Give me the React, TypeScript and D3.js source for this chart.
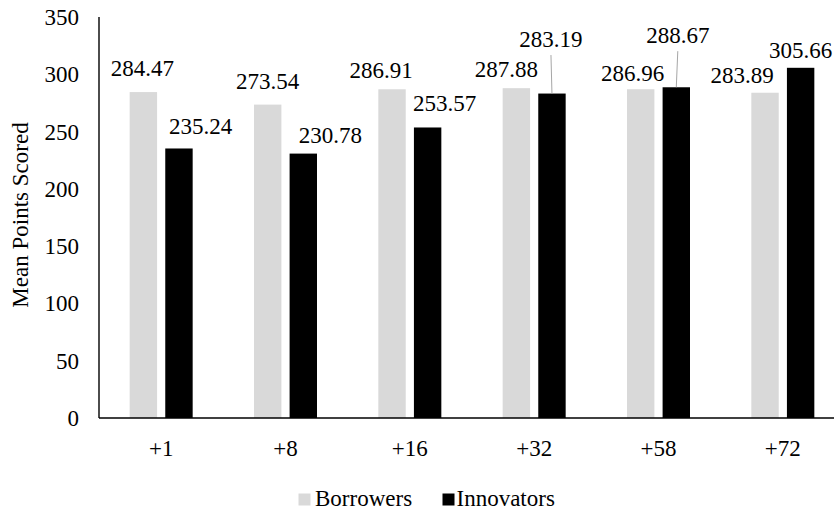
import React from "react";
import * as d3 from "d3";

// Categories (bonus offsets) and the two series
const categories: string[] = ["+1", "+8", "+16", "+32", "+58", "+72"];
const borrowers: number[] = [284.47, 273.54, 286.91, 287.88, 286.96, 283.89];
const innovators: number[] = [235.24, 230.78, 253.57, 283.19, 288.67, 305.66];
const yTicks: number[] = [0, 50, 100, 150, 200, 250, 300, 350];
const seriesNames: string[] = ["Borrowers", "Innovators"];

// Label nudges relative to each bar's top centre: [dx, dy]
const borrowerLabelOffsets: [number, number][] = [
  [-1, -16], [0, -16], [-11, -11], [-10, -11.5], [-8, -8], [-23, -10],
];
const innovatorLabelOffsets: [number, number][] = [
  [21.6, -14], [27, -11], [17, -16.5], [-1, -47], [1.5, -44.6], [0, -9.5],
];
// Labels pulled far enough away get a leader line
const innovatorLeader: boolean[] = [false, false, false, true, true, false];

const W = 834;
const H = 510;
const FONT = "Liberation Serif, Times New Roman, Times, serif";
const FS = 23;
const COLORS = ["#D9D9D9", "#000000"];

export default function App() {
  const x0 = d3.scaleBand<string>().domain(categories).range([99, 845]).paddingInner(0).paddingOuter(0);
  const x1 = d3.scaleBand<string>().domain(seriesNames).range([-31.5, 31.5]).paddingInner(0.23).paddingOuter(0);
  const y = d3.scaleLinear().domain([0, 350]).range([418, 17]);

  const series = [borrowers, innovators];

  const centre = (i: number) => (x0(categories[i]) as number) + x0.bandwidth() / 2;
  const ts: React.CSSProperties = { fontFamily: FONT, fontSize: FS };

  return (
    <svg
      width={W}
      height={H}
      style={{ position: "absolute", left: 0, top: 0, background: "#fff" }}
    >
      <rect x={0} y={0} width={W} height={H} fill="#fff" />
      {/* bars */}
      {series.map((vals, s) =>
        vals.map((v, i) => (
          <rect
            key={`b${s}-${i}`}
            x={centre(i) + (x1(seriesNames[s]) as number)}
            y={y(v)}
            width={x1.bandwidth()}
            height={y(0) - y(v)}
            fill={COLORS[s]}
          />
        ))
      )}
      {/* axes */}
      <line x1={99} x2={99} y1={y(350)} y2={y(0)} stroke="#000" strokeWidth={1.4} />
      <line x1={99} x2={W} y1={y(0)} y2={y(0)} stroke="#000" strokeWidth={1.4} />
      {yTicks.map((t) => (
        <text key={`yt${t}`} x={79} y={y(t) + 8} textAnchor="end" fill="#000" style={ts}>
          {t}
        </text>
      ))}
      {categories.map((c, i) => (
        <text key={`xc${c}`} x={centre(i)} y={456} textAnchor="middle" fill="#000" style={ts}>
          {c}
        </text>
      ))}
      <text
        transform={`translate(28, 215) rotate(-90)`}
        textAnchor="middle"
        fill="#000"
        style={ts}
      >
        Mean Points Scored
      </text>
      {/* data labels */}
      {borrowers.map((v, i) => {
        const bx = centre(i) + (x1("Borrowers") as number) + x1.bandwidth() / 2;
        const [dx, dy] = borrowerLabelOffsets[i];
        return (
          <text key={`lb${i}`} x={bx + dx} y={y(v) + dy} textAnchor="middle" fill="#000" style={ts}>
            {v.toFixed(2)}
          </text>
        );
      })}
      {innovators.map((v, i) => {
        const bx = centre(i) + (x1("Innovators") as number) + x1.bandwidth() / 2;
        const [dx, dy] = innovatorLabelOffsets[i];
        return (
          <g key={`li${i}`}>
            {innovatorLeader[i] && (
              <line
                x1={bx + dx}
                y1={y(v) + dy + 8.5}
                x2={bx}
                y2={y(v)}
                stroke="#A6A6A6"
                strokeWidth={1}
              />
            )}
            <text x={bx + dx} y={y(v) + dy} textAnchor="middle" fill="#000" style={ts}>
              {v.toFixed(2)}
            </text>
          </g>
        );
      })}
      {/* legend */}
      <rect x={298.5} y={493.5} width={12} height={12} fill={COLORS[0]} />
      <text x={315} y={506} fill="#000" style={ts}>Borrowers</text>
      <rect x={442.5} y={493.5} width={12} height={12} fill={COLORS[1]} />
      <text x={456.5} y={506} fill="#000" style={ts}>Innovators</text>
    </svg>
  );
}
